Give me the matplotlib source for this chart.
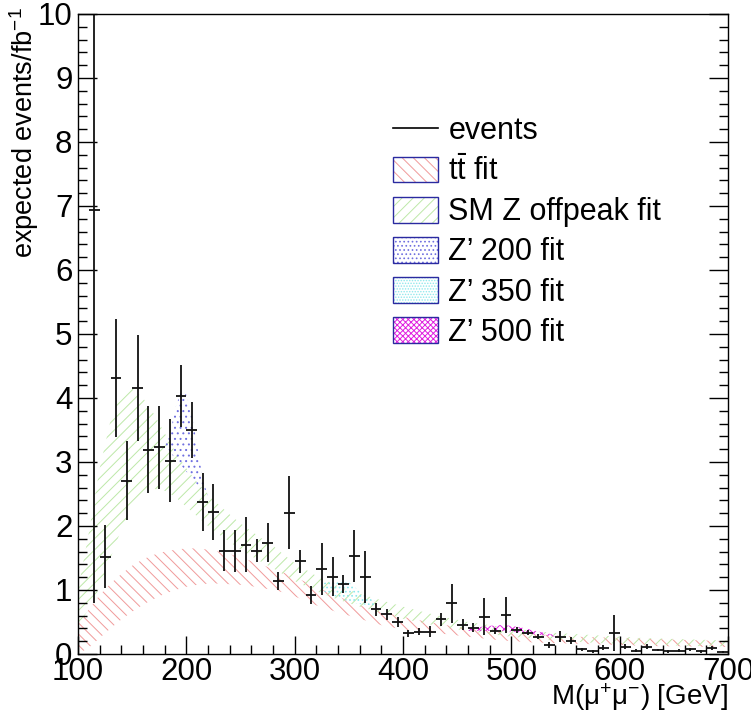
import matplotlib
matplotlib.use("Agg")
import matplotlib.pyplot as plt
from matplotlib.patches import Patch
from matplotlib.lines import Line2D
import numpy as np

plt.rcParams["font.family"] = ["Liberation Sans", "DejaVu Sans"]
plt.rcParams["mathtext.fontset"] = "custom"
plt.rcParams["mathtext.rm"] = "Liberation Sans"
plt.rcParams["mathtext.it"] = "Liberation Sans"
plt.rcParams["hatch.linewidth"] = 0.7

# measured events per 10 GeV bin (bin centres, value, error)
mass = [115, 125, 135, 145, 155, 165, 175, 185, 195, 205,
        215, 225, 235, 245, 255, 265, 275, 285, 295, 305,
        315, 325, 335, 345, 355, 365, 375, 385, 395, 405,
        415, 425, 435, 445, 455, 465, 475, 485, 495, 505,
        515, 525, 535, 545, 555, 565, 575, 585, 595, 605,
        615, 625, 635, 645, 655, 665, 675, 685, 695]
events = [6.94, 1.52, 4.31, 2.71, 4.16, 3.19, 3.23, 3.02, 4.03, 3.50,
          2.37, 2.22, 1.61, 1.61, 1.71, 1.61, 1.74, 1.14, 2.21, 1.45,
          0.92, 1.33, 1.21, 1.10, 1.53, 1.20, 0.70, 0.62, 0.50, 0.32,
          0.35, 0.35, 0.54, 0.79, 0.46, 0.41, 0.58, 0.36, 0.61, 0.375,
          0.33, 0.27, 0.14, 0.27, 0.21, 0.07, 0.04, 0.10, 0.33, 0.11,
          0.05, 0.11, 0.06, 0.04, 0.05, 0.07, 0.04, 0.09, 0.03]
events_err = [6.14, 0.49, 0.92, 0.61, 0.83, 0.68, 0.65, 0.65, 0.48, 0.44,
              0.45, 0.44, 0.32, 0.33, 0.43, 0.18, 0.31, 0.14, 0.57, 0.18,
              0.14, 0.41, 0.30, 0.14, 0.41, 0.41, 0.10, 0.09, 0.08, 0.05,
              0.05, 0.09, 0.10, 0.30, 0.08, 0.07, 0.29, 0.05, 0.28, 0.05,
              0.04, 0.04, 0.05, 0.09, 0.06, 0.03, 0.02, 0.04, 0.28, 0.04,
              0.02, 0.04, 0.02, 0.02, 0.02, 0.03, 0.02, 0.03, 0.02]

# fit bands (lower / upper edge)
fit_mass = [100, 110, 120, 130, 140, 150, 160, 170, 180, 190,
            200, 210, 220, 230, 240, 250, 260, 270, 280, 290,
            300, 320, 340, 360, 380, 400, 420, 440, 460, 480,
            500, 520, 540, 560, 580, 600, 620, 640, 660, 680, 700]
tt_up = [0.45, 0.70, 0.92, 1.10, 1.25, 1.38, 1.48, 1.55, 1.60, 1.63,
         1.65, 1.65, 1.63, 1.60, 1.56, 1.51, 1.45, 1.39, 1.33, 1.27,
         1.20, 1.05, 0.90, 0.76, 0.66, 0.58, 0.51, 0.45, 0.40, 0.36,
         0.33, 0.31, 0.29, 0.27, 0.26, 0.25, 0.24, 0.23, 0.22, 0.21, 0.20]
tt_lo = [0.00, 0.10, 0.25, 0.40, 0.54, 0.66, 0.77, 0.86, 0.94, 1.00,
         1.05, 1.08, 1.10, 1.10, 1.09, 1.08, 1.06, 1.03, 1.00, 0.96,
         0.90, 0.76, 0.65, 0.55, 0.45, 0.38, 0.34, 0.31, 0.27, 0.23,
         0.20, 0.18, 0.17, 0.16, 0.15, 0.14, 0.13, 0.12, 0.12, 0.11, 0.11]
z_up = [1.00, 1.90, 2.90, 3.65, 4.10, 4.15, 4.00, 3.75, 3.45, 3.15,
        2.90, 2.68, 2.50, 2.33, 2.18, 2.04, 1.92, 1.80, 1.69, 1.55,
        1.42, 1.22, 1.06, 0.94, 0.84, 0.74, 0.65, 0.57, 0.50, 0.45,
        0.40, 0.36, 0.33, 0.31, 0.29, 0.27, 0.25, 0.24, 0.23, 0.22, 0.21]
z_lo = [0.45, 0.70, 1.05, 1.50, 1.95, 2.30, 2.50, 2.58, 2.55, 2.45,
        2.30, 2.15, 2.00, 1.87, 1.75, 1.63, 1.53, 1.43, 1.34, 1.24,
        1.14, 0.98, 0.85, 0.74, 0.64, 0.55, 0.48, 0.41, 0.36, 0.31,
        0.27, 0.24, 0.21, 0.19, 0.17, 0.16, 0.15, 0.14, 0.13, 0.12, 0.12]

zp200_mass = [180, 185, 190, 195, 200, 205, 210, 215, 220, 225]
zp200_up = [3.30, 3.45, 3.85, 4.10, 4.05, 3.75, 3.25, 2.75, 2.45, 2.30]
zp200_lo = [3.30, 3.15, 3.05, 2.95, 2.85, 2.75, 2.65, 2.55, 2.45, 2.30]

zp350_mass = [325, 330, 340, 345, 350, 355, 360, 365, 370, 375]
zp350_up = [1.10, 1.13, 1.15, 1.15, 1.12, 1.05, 0.98, 0.92, 0.86, 0.82]
zp350_lo = [1.00, 0.95, 0.88, 0.85, 0.82, 0.80, 0.78, 0.77, 0.76, 0.76]

zp500_mass = [460, 470, 480, 490, 500, 510, 520, 530, 540]
zp500_up = [0.40, 0.42, 0.44, 0.45, 0.44, 0.41, 0.37, 0.33, 0.30]
zp500_lo = [0.36, 0.36, 0.36, 0.36, 0.35, 0.33, 0.31, 0.29, 0.27]

c_tt = "#f09a9a"
c_z = "#bde8a8"
c_200 = "#7070e0"
c_350 = "#8ee8ec"
c_500 = "#e020e0"
c_box = "#2a2aa0"

fig = plt.figure(figsize=(7.51, 7.12), dpi=100)
ax = fig.add_axes([0.1039, 0.0815, 0.8655, 0.8989])

ax.fill_between(fit_mass, tt_lo, tt_up, facecolor="none", edgecolor=c_tt,
                hatch="\\\\\\", linewidth=0)
ax.fill_between(fit_mass, z_lo, z_up, facecolor="none", edgecolor=c_z,
                hatch="///", linewidth=0)
ax.fill_between(zp200_mass, zp200_lo, zp200_up, facecolor="none",
                edgecolor=c_200, hatch="...", linewidth=0)
ax.fill_between(zp350_mass, zp350_lo, zp350_up, facecolor="none",
                edgecolor=c_350, hatch="....", linewidth=0)
ax.fill_between(zp500_mass, zp500_lo, zp500_up, facecolor="none",
                edgecolor=c_500, hatch="xxxx", linewidth=0)

ax.errorbar(mass, events, yerr=events_err, xerr=5, fmt="none",
            ecolor="#111111", elinewidth=1.3, capsize=0)

ax.set_xlim(100, 700)
ax.set_ylim(0, 10)
ax.set_xticks(np.arange(100, 701, 100))
ax.set_xticks(np.arange(100, 701, 20), minor=True)
ax.set_yticks(np.arange(0, 11, 1))
ax.set_yticks(np.arange(0, 10.01, 0.2), minor=True)
ax.tick_params(which="both", direction="in", right=True, top=False,
               labelsize=22.5, width=1)
ax.tick_params(axis="y", which="major", length=13.7, pad=4)
ax.tick_params(axis="y", which="minor", length=6.5)
ax.tick_params(axis="x", which="major", length=13, pad=2.5)
ax.tick_params(axis="x", which="minor", length=6.5)
for s in ax.spines.values():
    s.set_linewidth(1)

ax.set_xlabel("M(μ$^{+}$μ$^{-}$) [GeV]", fontsize=20, loc="right")
ax.xaxis.set_label_coords(1.0, -0.043)
ax.set_ylabel("expected events/fb$^{-1}$", fontsize=19.5, loc="top")
ax.yaxis.set_label_coords(-0.057, 1.01)

def box(color, hatch):
    return (Patch(facecolor="none", edgecolor=color, hatch=hatch, linewidth=0),
            Patch(facecolor="none", edgecolor=c_box, linewidth=1))

handles = [Line2D([], [], color="black", linewidth=1.2),
           box(c_tt, "\\\\\\"), box(c_z, "///"), box(c_200, "...."),
           box(c_350, "......"), box(c_500, "xxxxxx")]
labels = ["events", "t$\\bar{\\mathrm{t}}$ fit", "SM Z offpeak fit",
          "Z’ 200 fit", "Z’ 350 fit", "Z’ 500 fit"]
ax.legend(handles, labels, loc="upper left", frameon=False, fontsize=22,
          bbox_to_anchor=(393 / 751, 1 - 116 / 712),
          bbox_transform=fig.transFigure, borderpad=0, borderaxespad=0,
          handlelength=1.48, handleheight=0.92, handletextpad=0.33,
          labelspacing=0.32)

fig.savefig("out.png", dpi=100)
